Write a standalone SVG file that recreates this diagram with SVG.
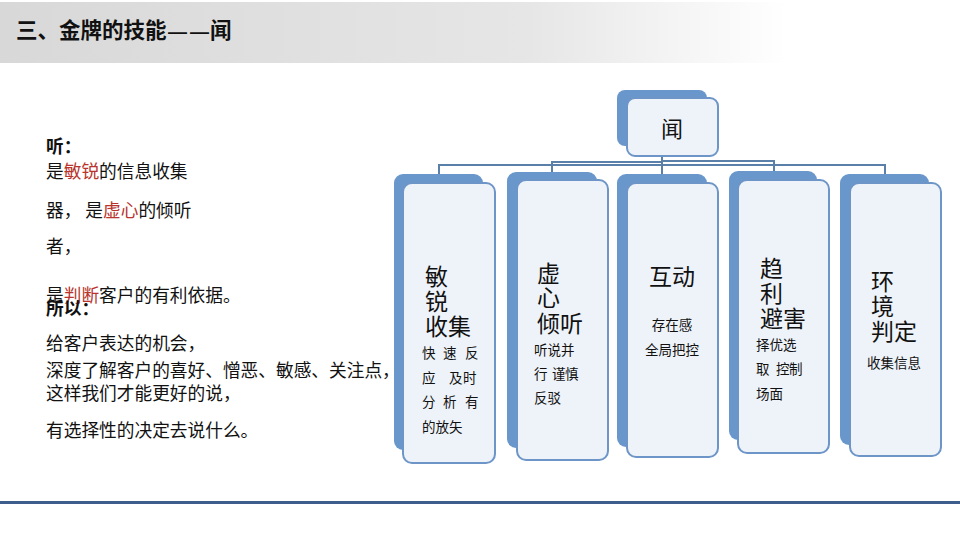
<svg xmlns="http://www.w3.org/2000/svg" width="960" height="540" viewBox="0 0 960 540">
<defs>
<linearGradient id="hdr" x1="0" y1="0" x2="1" y2="0">
<stop offset="0" stop-color="#d8d8d8"/>
<stop offset="0.55" stop-color="#e6e6e6"/>
<stop offset="0.82" stop-color="#ffffff"/>
</linearGradient>
<style>
text{font-family:"Noto Sans CJK SC","Noto Sans",sans-serif;fill:#111}
.back{fill:#6a97cb}
.front{fill:#eef3f9;stroke:#6d95c8;stroke-width:2}
.big{font-size:23px}
.sub{font-size:13.5px}
.left{font-size:17.7px}
.red{fill:#b8342c}
.b{font-weight:bold}
.con{fill:none;stroke:#5a7fa8;stroke-width:2}
.dash{font-family:"Liberation Sans",sans-serif;font-size:19px}
</style>
</defs>
<rect width="960" height="540" fill="#ffffff"/>
<rect x="0" y="2" width="960" height="61" fill="url(#hdr)"/>
<text x="16" y="38" font-size="21.5" font-weight="bold">三、金牌的技能<tspan class="dash" dx="1.5">—</tspan><tspan class="dash" dx="3">—</tspan><tspan dx="1">闻</tspan></text>
<line x1="0" y1="502.5" x2="960" y2="502.5" stroke="#3f5d8c" stroke-width="3"/>

<g id="left-text">
<text class="left b" x="46" y="153">听：</text>
<text class="left" x="46" y="178">是<tspan class="red">敏锐</tspan>的信息收集</text>
<text class="left" x="46" y="217">器， 是<tspan class="red">虚心</tspan>的倾听</text>
<text class="left" x="46" y="253">者，</text>
<text class="left" x="46" y="302">是<tspan class="red">判断</tspan>客户的有利依据。</text>
<text class="left b" x="46" y="315">所以：</text>
<text class="left" x="46" y="350">给客户表达的机会，</text>
<text class="left" x="46" y="377">深度了解客户的喜好、憎恶、敏感、关注点，</text>
<text class="left" x="46" y="400">这样我们才能更好的说，</text>
<text class="left" x="46" y="437">有选择性的决定去说什么。</text>
</g>

<g id="connectors">
<line class="con" x1="662" y1="150" x2="662" y2="175"/>
<polyline class="con" points="662,165 439,165 439,174"/>
<polyline class="con" points="662,162 552,162 552,172"/>
<polyline class="con" points="662,161 774,161 774,171"/>
<polyline class="con" points="662,165 885,165 885,174"/>
</g>

<g id="node-wen">
<rect class="back" x="617" y="90" width="90" height="56" rx="8"/>
<rect class="front" x="627" y="98" width="91" height="58" rx="8"/>
<text x="672" y="137" font-size="22" text-anchor="middle">闻</text>
</g>

<g id="node-1">
<rect class="back" x="394" y="174" width="89" height="276" rx="9"/>
<rect class="front" x="403" y="183" width="92" height="280" rx="9"/>
<text class="big" x="425" y="285">敏</text>
<text class="big" x="425" y="310">锐</text>
<text class="big" x="425" y="335">收集</text>
<text class="sub" x="422 443 465" y="358">快速反</text>
<text class="sub" x="422 449 463" y="383">应及时</text>
<text class="sub" x="422 443 465" y="407">分析有</text>
<text class="sub" x="422" y="432">的放矢</text>
</g>

<g id="node-2">
<rect class="back" x="507" y="172" width="90" height="276" rx="9"/>
<rect class="front" x="517" y="180" width="91" height="280" rx="9"/>
<text class="big" x="537" y="282">虚</text>
<text class="big" x="537" y="306">心</text>
<text class="big" x="537" y="332">倾听</text>
<text class="sub" x="534" y="355">听说并</text>
<text class="sub" x="534 552 565" y="379">行谨慎</text>
<text class="sub" x="534" y="403">反驳</text>
</g>

<g id="node-3">
<rect class="back" x="617" y="174" width="90" height="273" rx="9"/>
<rect class="front" x="627" y="183" width="91" height="274" rx="9"/>
<text class="big" x="649" y="285">互动</text>
<text class="sub" x="672" y="330" text-anchor="middle">存在感</text>
<text class="sub" x="672" y="355" text-anchor="middle">全局把控</text>
</g>

<g id="node-4">
<rect class="back" x="729" y="171" width="88" height="269" rx="9"/>
<rect class="front" x="738" y="180" width="91" height="273" rx="9"/>
<text class="big" x="760" y="277">趋</text>
<text class="big" x="760" y="302">利</text>
<text class="big" x="760" y="327">避害</text>
<text class="sub" x="756" y="350">择优选</text>
<text class="sub" x="756 776 789" y="374">取控制</text>
<text class="sub" x="756" y="399">场面</text>
</g>

<g id="node-5">
<rect class="back" x="840" y="174" width="89" height="271" rx="9"/>
<rect class="front" x="850" y="183" width="91" height="273" rx="9"/>
<text class="big" x="871" y="290">环</text>
<text class="big" x="871" y="315">境</text>
<text class="big" x="871" y="340">判定</text>
<text class="sub" x="894" y="368" text-anchor="middle">收集信息</text>
</g>
</svg>
